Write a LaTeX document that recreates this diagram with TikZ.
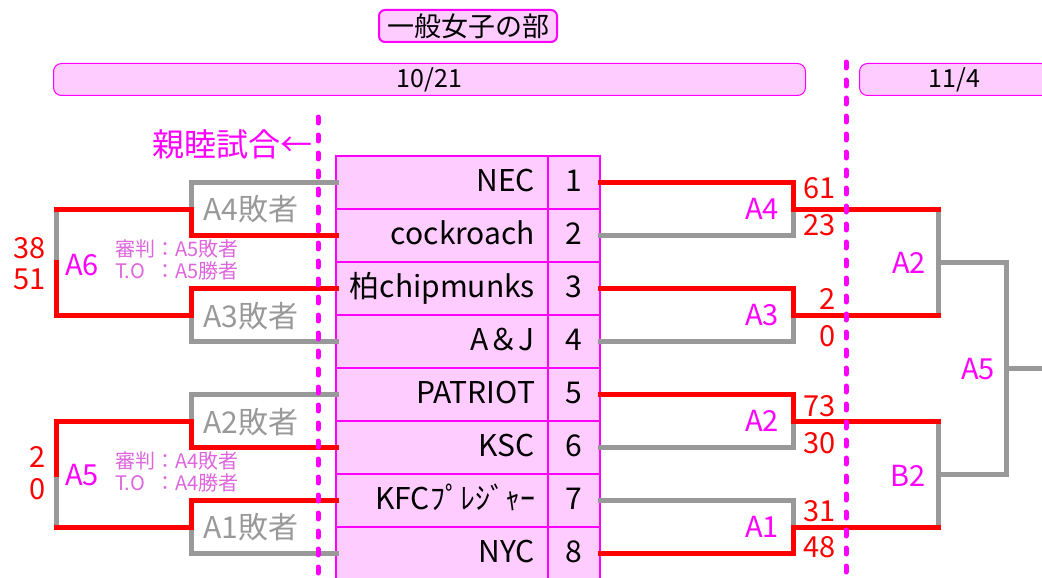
\documentclass[tikz,border=0pt]{standalone}
\usepackage{fontspec}
\setmainfont{Noto Sans CJK JP}
\usetikzlibrary{positioning}
\definecolor{mag}{RGB}{255,0,255}
\definecolor{pinkfill}{RGB}{255,204,255}
\definecolor{winred}{RGB}{255,0,0}
\definecolor{losegray}{RGB}{153,153,153}
\definecolor{judgecol}{RGB}{221,102,221}

\begin{document}
\begin{tikzpicture}[x=1pt, y=-1pt,
    cell/.style={draw=mag, fill=pinkfill, line width=1.2pt, outer sep=0pt, minimum height=53pt, text height=21pt, text depth=4pt, font=\fontsize{30}{32}\selectfont},
    team/.style={cell, text width=186pt, inner xsep=13pt, align=right},
    num/.style={cell, minimum width=52pt, inner xsep=0pt},
    datebar/.style={draw=mag, fill=pinkfill, line width=1pt, rounded corners=8pt, minimum height=32pt, inner sep=0pt, anchor=north west, font=\fontsize{25}{27}\selectfont},
    titlebox/.style={draw=mag, fill=pinkfill, line width=2pt, rounded corners=6pt, minimum width=178pt, minimum height=32pt, inner sep=0pt, font=\fontsize{27}{29}\selectfont},
    win/.style={draw=winred, line width=5pt, line cap=rect},
    lose/.style={draw=losegray, line width=5pt, line cap=rect},
    divider/.style={draw=mag, line width=5pt, line cap=round, dash pattern=on 6pt off 12pt},
    matchlbl/.style={text=mag, inner sep=0pt, font=\fontsize{29}{31}\selectfont},
    score/.style={text=winred, inner sep=0pt, anchor=east, font=\fontsize{29}{31}\selectfont},
    loserlbl/.style={text=losegray, inner sep=0pt, anchor=west, font=\fontsize{30}{32}\selectfont},
    judge/.style={text=judgecol, inner sep=0pt, anchor=west, font=\fontsize{20}{19}\selectfont}
  ]
    \useasboundingbox (0,0) rectangle (1042,578);
    \clip (0,0) rectangle (1042,578);

    % Header
    \node[titlebox] (title) at (468,26) {一般女子の部};
    \node[datebar, minimum width=752pt] (day1) at (53,63) {10/21};
    \node[datebar, minimum width=190pt] (day2) at (859,63) {11/4};
    \node[text=mag, inner sep=0pt, anchor=east, font=\fontsize{32}{34}\selectfont] (friendly) at (313,144) {親睦試合←};

    % Teams
    \node[team, anchor=north west] (t1) at (336,156) {NEC};
    \node[team, below=0pt of t1] (t2) {cockroach};
    \node[team, below=0pt of t2] (t3) {柏chipmunks};
    \node[team, below=0pt of t3] (t4) {A＆J};
    \node[team, below=0pt of t4] (t5) {PATRIOT};
    \node[team, below=0pt of t5] (t6) {KSC};
    \node[team, below=0pt of t6] (t7) {KFCﾌﾟﾚｼﾞｬｰ};
    \node[team, below=0pt of t7] (t8) {NYC};
    \node[num, right=0pt of t1] (n1) {1};
    \node[num, right=0pt of t2] (n2) {2};
    \node[num, right=0pt of t3] (n3) {3};
    \node[num, right=0pt of t4] (n4) {4};
    \node[num, right=0pt of t5] (n5) {5};
    \node[num, right=0pt of t6] (n6) {6};
    \node[num, right=0pt of t7] (n7) {7};
    \node[num, right=0pt of t8] (n8) {8};

    % Junctions
    \coordinate (R4) at (793,209);  \coordinate (R4w) at (938,209);
    \coordinate (R3) at (793,315);  \coordinate (R3w) at (938,315);
    \coordinate (R2) at (793,421);  \coordinate (R2w) at (938,421);
    \coordinate (R1) at (793,527);  \coordinate (R1w) at (938,527);
    \coordinate (Q2) at (938,262);  \coordinate (Q2e) at (1006,262);
    \coordinate (Q1) at (938,474);  \coordinate (Q1e) at (1006,474);
    \coordinate (P5) at (1006,368); \coordinate (P5e) at (1050,368);
    \coordinate (L4) at (191,209);
    \coordinate (L3) at (191,315);
    \coordinate (L2) at (191,421);
    \coordinate (L1) at (191,527);
    \coordinate (B6a) at (56,209); \coordinate (B6m) at (56,262); \coordinate (B6b) at (56,315);
    \coordinate (B5a) at (56,421); \coordinate (B5m) at (56,474); \coordinate (B5b) at (56,527);

    % Lost paths
    \draw[lose] (n2.east) -| (R4);
    \draw[lose] (n4.east) -| (R3);
    \draw[lose] (n6.east) -| (R2);
    \draw[lose] (n7.east) -| (R1);
    \draw[lose] (R4w) -- (R3w);
    \draw[lose] (Q2) -- (Q2e);
    \draw[lose] (R2w) -- (R1w);
    \draw[lose] (Q1) -- (Q1e);
    \draw[lose] (Q2e) -- (Q1e);
    \draw[lose] (P5) -- (P5e);
    \draw[lose] (t1.west) -| (L4);
    \draw[lose] (t4.west) -| (L3);
    \draw[lose] (t5.west) -| (L2);
    \draw[lose] (t8.west) -| (L1);
    \draw[lose] (B6a) -- (B6m);
    \draw[lose] (B5m) -- (B5b);

    % Won paths
    \draw[win] (n1.east) -| (R4) -- (R4w);
    \draw[win] (n3.east) -| (R3) -- (R3w);
    \draw[win] (n5.east) -| (R2) -- (R2w);
    \draw[win] (n8.east) -| (R1) -- (R1w);
    \draw[win] (t2.west) -| (L4);
    \draw[win] (t3.west) -| (L3);
    \draw[win] (t6.west) -| (L2);
    \draw[win] (t7.west) -| (L1);
    \draw[win] (L4) -- (B6a);
    \draw[win] (B6m) -- (B6b) -- (L3);
    \draw[win] (L2) -- (B5a) -- (B5m);
    \draw[win] (B5b) -- (L1);

    % Day dividers
    \coordinate (d1top) at (318,117); \coordinate (d1bot) at (318,590);
    \coordinate (d2top) at (846,62);  \coordinate (d2bot) at (846,590);
    \draw[divider] (d1top) -- (d1bot);
    \draw[divider] (d2top) -- (d2bot);

    % Match labels
    \node[matchlbl, anchor=east] (mA4) at (779,209) {A4};
    \node[matchlbl, anchor=east] (mA3) at (779,315) {A3};
    \node[matchlbl, anchor=east] (mA2) at (779,421) {A2};
    \node[matchlbl, anchor=east] (mA1) at (779,527) {A1};
    \node[matchlbl, anchor=east] (mA2b) at (926,263) {A2};
    \node[matchlbl, anchor=east] (mB2) at (926,476) {B2};
    \node[matchlbl, anchor=east] (mA5b) at (995,369) {A5};
    \node[matchlbl, anchor=west] (mA6) at (65,265) {A6};
    \node[matchlbl, anchor=west] (mA5) at (65,475) {A5};

    % Scores
    \node[score] (s4a) at (836,188) {61};
    \node[score] (s4b) at (836,225) {23};
    \node[score] (s3a) at (836,299) {2};
    \node[score] (s3b) at (836,336) {0};
    \node[score] (s2a) at (836,406) {73};
    \node[score] (s2b) at (836,443) {30};
    \node[score] (s1a) at (836,511) {31};
    \node[score] (s1b) at (836,547) {48};
    \node[score] (s6a) at (46,248) {38};
    \node[score] (s6b) at (46,279) {51};
    \node[score] (s5a) at (46,457) {2};
    \node[score] (s5b) at (46,489) {0};

    % Losers' side
    \node[loserlbl] (l4) at (203,209) {A4敗者};
    \node[loserlbl] (l3) at (203,316) {A3敗者};
    \node[loserlbl] (l2) at (203,422) {A2敗者};
    \node[loserlbl] (l1) at (203,527) {A1敗者};
    \node[judge] (j6) at (115,262) {\begin{tabular}{@{}l@{}l@{}}審判&：A5敗者\\T.O&：A5勝者\end{tabular}};
    \node[judge] (j5) at (115,474) {\begin{tabular}{@{}l@{}l@{}}審判&：A4敗者\\T.O&：A4勝者\end{tabular}};
\end{tikzpicture}
\end{document}
